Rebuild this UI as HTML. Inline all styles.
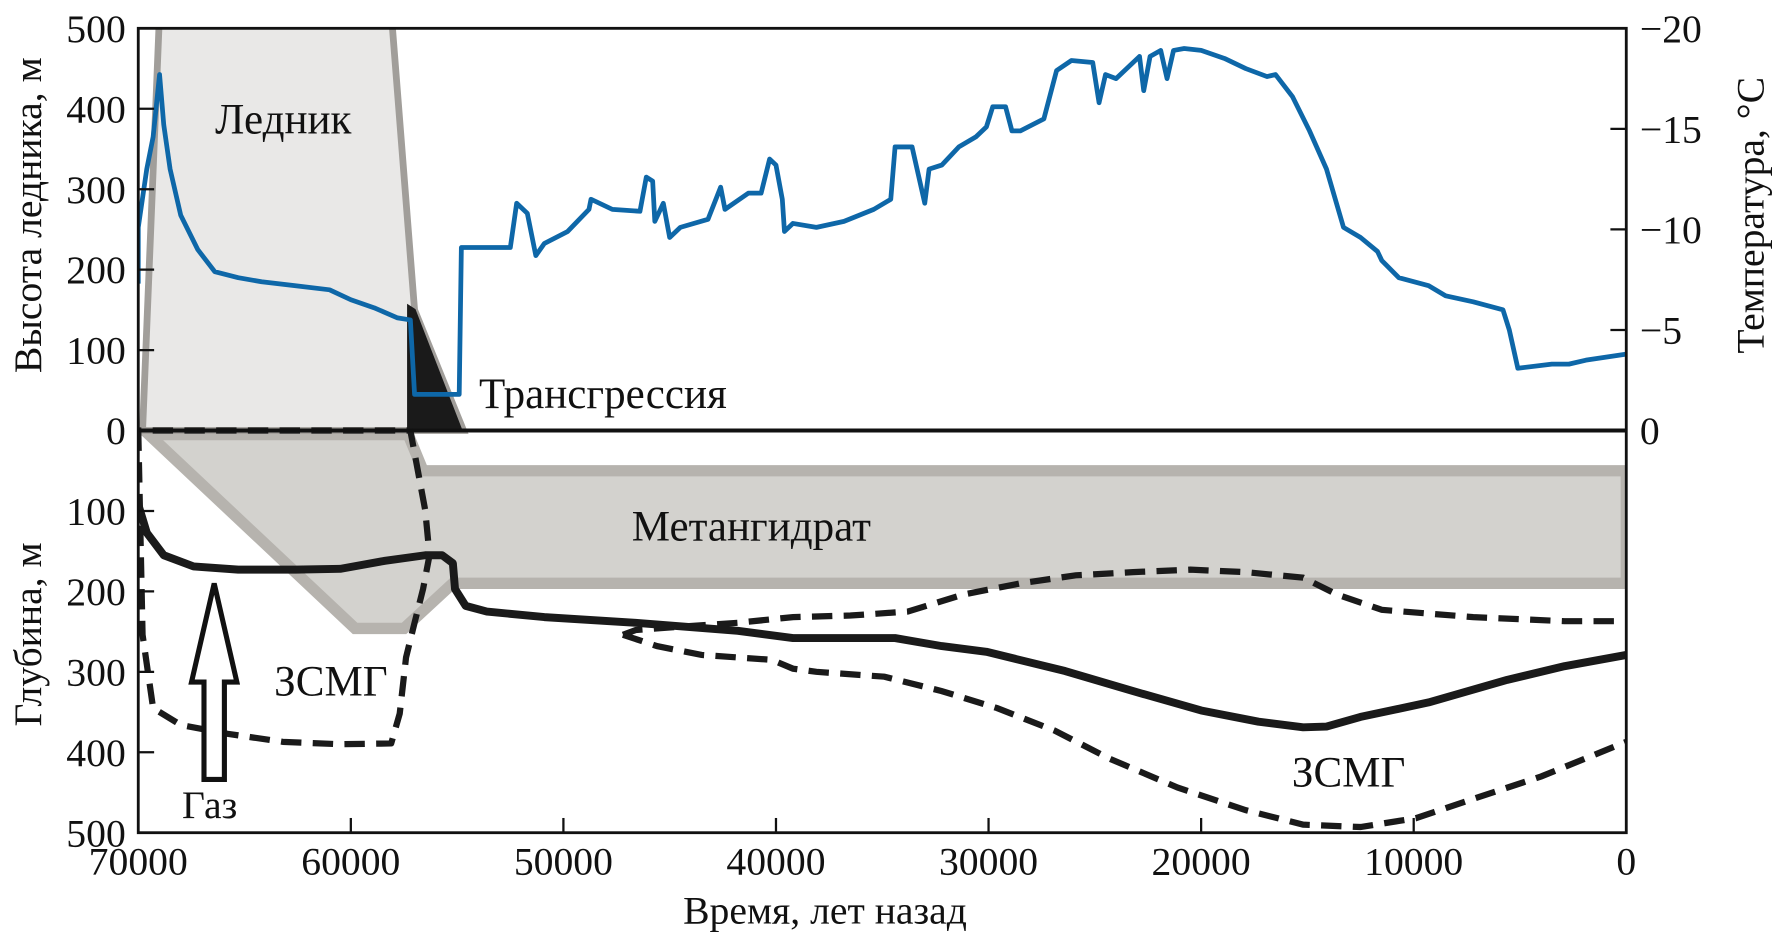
<!DOCTYPE html>
<html><head><meta charset="utf-8"><style>
html,body{margin:0;padding:0;background:#fff;}
svg{display:block;}
text{font-family:"Liberation Serif","DejaVu Serif",serif;fill:#111;}
</style></head><body>
<svg id="chart" width="1777" height="946" viewBox="0 0 1568 835" preserveAspectRatio="none" xmlns="http://www.w3.org/2000/svg">
<defs><clipPath id="plotclip"><rect x="122" y="25" width="1313" height="710"/></clipPath></defs>
<g id="marks" clip-path="url(#plotclip)"></g>
<g id="axes"></g>
</svg>
<script>
const NS='http://www.w3.org/2000/svg';
// ---- data ----
const xTicks=[70000,60000,50000,40000,30000,20000,10000,0];
const hTicks=[0,100,200,300,400,500];
const dTicks=[100,200,300,400,500];
const tTicks=[0,5,10,15,20];
const tTickLabels=['0','\u22125','\u221210','\u221215','\u221220'];
const tempYears=[70000,70000,69600,69300,69000,68800,68500,68000,67200,66400,65300,64200,62600,61000,60000,58900,57800,57200,57000,54900,54800,52500,52200,51700,51300,50900,49800,48800,48700,47700,46400,46100,45800,45700,45300,45000,44500,43200,42600,42400,41300,40700,40300,40000,39700,39600,39200,38100,36800,35400,34600,34400,33600,33300,33000,32800,32200,31400,30600,30100,29800,29200,28900,28500,27400,26800,26100,25100,24800,24500,24000,22900,22700,22400,21900,21600,21300,20800,20000,18900,17900,16900,16500,15700,14900,14100,13300,12500,11700,11500,10700,9300,8500,7200,5800,5500,5100,3500,2700,1900,0];
const tempVals=[7.3,10.1,13.0,14.6,17.7,15.2,13.0,10.7,9.0,7.9,7.6,7.4,7.2,7.0,6.5,6.1,5.6,5.5,1.8,1.8,9.1,9.1,11.3,10.8,8.7,9.3,9.9,11.0,11.5,11.0,10.9,12.6,12.4,10.4,11.3,9.6,10.1,10.5,12.1,11.0,11.8,11.8,13.5,13.2,11.5,9.9,10.3,10.1,10.4,11.0,11.5,14.1,14.1,12.7,11.3,13.0,13.2,14.1,14.6,15.1,16.1,16.1,14.9,14.9,15.5,17.9,18.4,18.3,16.3,17.7,17.5,18.6,16.9,18.6,18.9,17.5,18.9,19.0,18.9,18.5,18.0,17.6,17.7,16.6,14.9,13.0,10.1,9.6,8.9,8.45,7.6,7.2,6.7,6.4,6.0,5.0,3.1,3.3,3.3,3.5,3.8];
const glacierYears=[69800,69000,58100,57000,54700];
const glacierH=[0,520,520,150,0];
const transYears=[57300,57300,57000,54800];
const transH=[0,155,150,0];
const hydrateYears=[69500,57300,56600,0,0,55200,57500,59800];
const hydrateD=[5,5,50,50,190,190,246,246];
const baseYears=[70000,69600,68800,67400,65300,62600,60500,58400,56500,55700,55200,55100,54600,53600,50900,46600,41800,39200,34400,32200,30100,26400,23200,20000,17300,15200,14100,12500,9300,5600,2900,0];
const baseD=[92,127,155,169,173,173,172,162,155,155,165,197,218,225,232,239,249,258,258,268,275,299,324,348,362,369,368,356,338,310,293,279];
const zoneAYears=[70000,69800,69300,68000,65800,63200,60500,58100,57700,57400,57000,56600,56300,56500,57000,57200,62000,70000];
const zoneAD=[0,254,345,366,377,387,390,389,352,282,239,197,155,99,28,0,0,0];
const zoneBYears=[47200,46600,44500,41800,39200,36500,33800,31200,28500,25900,23200,20500,17900,15200,13600,11500,7200,2900,0];
const zoneBD=[254,248,244,239,232,230,225,204,190,180,176,173,176,183,204,223,232,237,237];
const zoneCYears=[47200,45600,43500,40200,39200,38100,34900,32200,29600,26900,24300,21100,17900,15200,12500,9900,7200,4000,0];
const zoneCD=[254,268,279,285,296,300,306,324,345,373,408,444,472,490,493,482,458,430,387];
// ---- scales ----
const X0=122,X1=1435,Y0=380;
const xs=v=>X1-(v/70000)*(X1-X0);
const yh=v=>Y0-v*0.71;
const yd=v=>Y0+v*0.71;
const yt=v=>Y0-v*17.75;
const marks=document.getElementById('marks');
const axes=document.getElementById('axes');
function mk(tag,attrs,parent){const e=document.createElementNS(NS,tag);for(const k in attrs)e.setAttribute(k,attrs[k]);(parent||marks).appendChild(e);return e;}
function pts(xsA,ysA,fy){return xsA.map((x,i)=>xs(x).toFixed(1)+','+fy(ysA[i]).toFixed(1)).join(' ');}
let e=mk('polygon',{points:pts(hydrateYears,hydrateD,yd),fill:'#d3d2ce',stroke:'#b6b3ae','stroke-width':10,'stroke-linejoin':'miter'});


e=mk('polygon',{points:pts(glacierYears,glacierH,yh),fill:'#e9e8e7',stroke:'#a19e9a','stroke-width':6});


e=mk('polygon',{points:pts(transYears,transH,yh),fill:'#1a1a1a',stroke:'#1a1a1a','stroke-width':2});


e=mk('polyline',{points:pts(zoneAYears,zoneAD,yd),fill:'none',stroke:'#1a1a1a','stroke-width':5.5,'stroke-dasharray':'18,10','stroke-linejoin':'round'});


e=mk('polyline',{points:pts(zoneBYears,zoneBD,yd),fill:'none',stroke:'#1a1a1a','stroke-width':5.5,'stroke-dasharray':'18,10'});


e=mk('polyline',{points:pts(zoneCYears,zoneCD,yd),fill:'none',stroke:'#1a1a1a','stroke-width':5.5,'stroke-dasharray':'18,10'});


e=mk('polyline',{points:pts(baseYears,baseD,yd),fill:'none',stroke:'#1a1a1a','stroke-width':7,'stroke-linejoin':'round'});


e=mk('polyline',{points:pts(tempYears,tempVals,yt),fill:'none',stroke:'#0e67a8','stroke-width':4.2,'stroke-linejoin':'round'});


e=mk('line',{x1:X0,x2:X1,y1:Y0,y2:Y0,stroke:'#111','stroke-width':3.5},axes);


e=mk('rect',{x:X0,y:25,width:X1-X0,height:710,fill:'none',stroke:'#111','stroke-width':2.5},axes);


function txt(s,x,y,attrs,name){const t=mk('text',Object.assign({x:x,y:y,'font-size':38},attrs||{}),axes);t.textContent=s;return t;}
xTicks.forEach(v=>{const x=xs(v);if(v!==70000&&v!==0){const l=mk('line',{x1:x,x2:x,y1:735,y2:722,stroke:'#111','stroke-width':2},axes);}
 txt(String(v),x,772,{'text-anchor':'middle','font-size':35},'x-tick-label');});
hTicks.forEach(v=>{const y=yh(v);const l=mk('line',{x1:X0,x2:X0+14,y1:y,y2:y,stroke:'#111','stroke-width':2},axes);
 txt(String(v),111,y+12,{'text-anchor':'end','font-size':35},'height-tick-label');});
dTicks.forEach(v=>{const y=yd(v);const l=mk('line',{x1:X0,x2:X0+14,y1:y,y2:y,stroke:'#111','stroke-width':2},axes);
 txt(String(v),111,y+12,{'text-anchor':'end','font-size':35},'depth-tick-label');});
tTicks.forEach((v,i)=>{const y=yt(v);if(v>0&&v<20){const l=mk('line',{x1:X1-14,x2:X1,y1:y,y2:y,stroke:'#111','stroke-width':2},axes);}
 txt(tTickLabels[i],1447,y+12,{'text-anchor':'start','font-size':35},'temp-tick-label');});
txt('Время, лет назад',728,815,{'text-anchor':'middle','font-size':35},'x-axis-title');
txt('Высота ледника, м',0,0,{'text-anchor':'middle','font-size':35,transform:'translate(36,190) rotate(-90)'},'height-axis-title');
txt('Глубина, м',0,0,{'text-anchor':'middle','font-size':35,transform:'translate(36,560) rotate(-90)'},'depth-axis-title');
txt('Температура, °С',0,0,{'text-anchor':'middle','font-size':35,transform:'translate(1556,190) rotate(-90)'},'temp-axis-title');
txt('Ледник',250,118,{'text-anchor':'middle'},'glacier-label');
txt('Трансгрессия',532,360,{'text-anchor':'middle'},'transgression-label');
txt('Метангидрат',663,477,{'text-anchor':'middle'},'hydrate-label');
txt('ЗСМГ',292,614,{'text-anchor':'middle'},'gas-zone-label-left');
txt('ЗСМГ',1190,694,{'text-anchor':'middle'},'gas-zone-label-right');
txt('Газ',185,722,{'text-anchor':'middle','font-size':35},'gas-label');
e=mk('polygon',{points:'180,688 198,688 198,602 209,602 189,515 169,602 180,602',fill:'#fff',stroke:'#111','stroke-width':4.5},axes);


</script>
</body></html>
